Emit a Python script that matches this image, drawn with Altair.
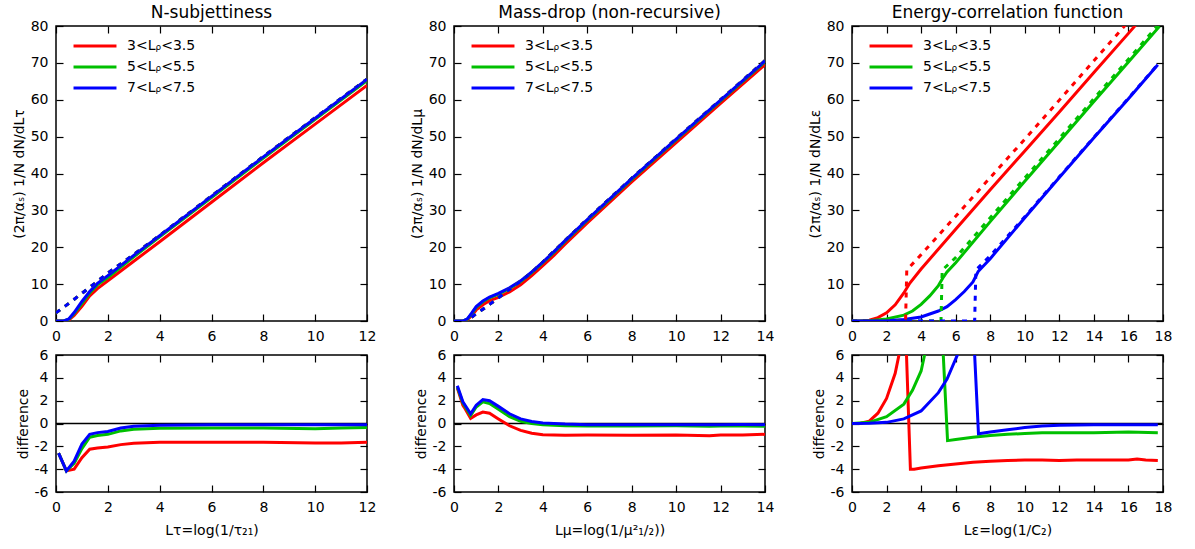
import altair as alt
import pandas as pd

FONT = "DejaVu Sans"
SERIES = ["3<Lᵨ<3.5", "5<Lᵨ<5.5", "7<Lᵨ<7.5"]
COLORS = ["#ff0000", "#00c000", "#0000ff"]
TITLES = ["N-subjettiness", "Mass-drop (non-recursive)", "Energy-correlation function"]
Y_TITLES = ["(2π/αₛ) 1/N dN/dLτ", "(2π/αₛ) 1/N dN/dLμ", "(2π/αₛ) 1/N dN/dLε"]
X_TITLES = ["Lτ=log(1/τ₂₁)", "Lμ=log(1/μ²₁/₂))", "Lε=log(1/C₂)"]
DIFF_TITLE = "difference"

X_TICKS_NS = [0, 2, 4, 6, 8, 10, 12]
X_TICKS_MD = [0, 2, 4, 6, 8, 10, 12, 14]
X_TICKS_EC = [0, 2, 4, 6, 8, 10, 12, 14, 16, 18]
Y_TICKS_TOP = [0, 10, 20, 30, 40, 50, 60, 70, 80]
Y_TICKS_DIFF = [-6, -4, -2, 0, 2, 4, 6]
ZERO_LEVEL = [0]

# ---------------- N-subjettiness ----------------
NS_X = [0, 0.3, 0.5, 0.7, 1.0, 1.3, 1.6, 2.0, 3, 4, 6, 8, 10, 12]
NS_RED = [0, 0, 0.3, 1.5, 4.0, 6.8, 8.8, 10.9, 16.2, 21.5, 32.2, 42.9, 53.4, 63.9]
NS_GRN = [0, 0, 0.5, 2.0, 4.8, 7.6, 9.8, 11.8, 17.4, 22.8, 33.5, 44.2, 54.7, 65.2]
NS_BLU = [0, 0, 0.6, 2.3, 5.3, 8.0, 10.2, 12.3, 17.8, 23.1, 33.8, 44.5, 55.0, 65.5]
NS_ANA_X = [0, 0.5, 1, 1.5, 2, 3, 4, 6, 8, 10, 12]
NS_ANA_Y = [2.2, 4.8, 7.5, 10.2, 13.0, 18.0, 23.2, 33.9, 44.6, 55.1, 65.6]

NSD_X = [0.1, 0.4, 0.7, 1.0, 1.3, 1.6, 2.0, 2.5, 3, 4, 6, 8, 10, 11, 12]
NSD_RED = [-2.6, -4.15, -4.0, -3.0, -2.25, -2.15, -2.05, -1.85, -1.72, -1.65, -1.65, -1.65, -1.7, -1.7, -1.65]
NSD_GRN = [-2.6, -4.15, -3.5, -2.2, -1.2, -1.05, -0.95, -0.65, -0.5, -0.42, -0.4, -0.4, -0.45, -0.4, -0.35]
NSD_BLU = [-2.6, -4.15, -3.3, -1.8, -0.95, -0.8, -0.7, -0.4, -0.25, -0.15, -0.12, -0.12, -0.12, -0.1, -0.1]

# ---------------- Mass-drop ----------------
MD_X = [0, 0.4, 0.6, 0.8, 1.0, 1.3, 1.6, 2.0, 2.5, 3, 3.5, 4, 4.5, 5, 6, 8, 10, 12, 14]
MD_RED = [0, 0, 0.3, 1.5, 3.0, 4.4, 5.5, 6.4, 7.9, 9.8, 12.3, 15.0, 17.8, 20.8, 26.6, 37.7, 48.4, 59.0, 69.5]
MD_GRN = [0, 0, 0.5, 2.0, 3.7, 5.2, 6.3, 7.3, 8.8, 10.7, 13.1, 15.8, 18.6, 21.6, 27.3, 38.4, 49.1, 59.7, 70.3]
MD_BLU = [0, 0, 0.6, 2.2, 3.9, 5.4, 6.5, 7.5, 9.0, 10.9, 13.3, 16.0, 18.8, 21.8, 27.5, 38.6, 49.3, 59.9, 70.5]
MD_ANA_X = [0.1, 0.4, 0.7, 1.0, 1.3, 1.6, 2.0, 2.5, 3, 3.5, 4, 6, 8, 10, 12, 14]
MD_ANA_Y = [-3.2, -1.6, 0.6, 2.0, 3.2, 4.5, 6.3, 8.6, 10.8, 13.2, 16.0, 27.6, 38.7, 49.4, 60.0, 70.6]

MDD_X = [0.15, 0.4, 0.5, 0.75, 1.0, 1.3, 1.6, 2.0, 2.5, 3, 3.5, 4, 5, 6, 8, 10, 11.5, 12, 13, 14]
MDD_RED = [3.1, 1.6, 1.3, 0.45, 0.75, 1.0, 0.9, 0.4, -0.2, -0.6, -0.85, -0.98, -1.02, -1.0, -1.02, -1.0, -1.08, -1.0, -1.0, -0.95]
MDD_GRN = [3.2, 1.8, 1.5, 0.7, 1.45, 1.9, 1.75, 1.25, 0.6, 0.2, 0.0, -0.12, -0.2, -0.22, -0.22, -0.2, -0.24, -0.22, -0.22, -0.25]
MDD_BLU = [3.3, 1.9, 1.6, 0.85, 1.6, 2.1, 2.0, 1.5, 0.85, 0.4, 0.18, 0.05, -0.05, -0.1, -0.1, -0.1, -0.1, -0.1, -0.08, -0.1]

# ---------------- Energy-correlation function ----------------
EC_RED_X = [0, 0.5, 1, 1.5, 2, 2.5, 3, 3.35, 4, 6, 8, 10, 12, 14, 16, 17.7]
EC_RED_Y = [0, 0.02, 0.2, 0.9, 2.2, 4.4, 7.6, 10.3, 14.1, 24.9, 35.6, 46.1, 56.7, 67.4, 78.0, 87.2]
EC_GRN_X = [0, 1, 2, 3, 3.5, 4, 4.5, 5, 5.25, 5.5, 6, 8, 10, 12, 14, 16, 17.8]
EC_GRN_Y = [0, 0.1, 0.55, 1.6, 2.7, 4.5, 6.8, 9.6, 11.6, 13.3, 15.8, 26.95, 37.9, 48.7, 59.5, 70.25, 79.9]
EC_BLU_X = [0, 1, 2, 3, 4, 5, 5.5, 6, 6.5, 7, 7.3, 8, 10, 12, 14, 16, 17.7]
EC_BLU_Y = [0, 0.02, 0.1, 0.4, 1.1, 2.7, 3.9, 5.8, 8.0, 10.6, 13.4, 16.9, 28.0, 38.9, 49.7, 60.3, 69.5]

EC_RED_ANA_X = [0, 3.1, 3.17, 4, 6, 8, 10, 12, 14, 16, 17.7]
EC_RED_ANA_Y = [0, 0, 13.8, 18.0, 28.4, 38.9, 49.3, 59.9, 70.6, 81.2, 90.2]
EC_GRN_ANA_X = [0, 5.15, 5.22, 6, 8, 10, 12, 14, 16, 17.8]
EC_GRN_ANA_Y = [0, 0, 13.8, 17.2, 28.0, 38.8, 49.5, 60.3, 71.0, 80.7]
EC_BLU_ANA_X = [0, 7.1, 7.17, 8, 10, 12, 14, 16, 17.7]
EC_BLU_ANA_Y = [0, 0, 13.8, 17.7, 28.3, 39.1, 49.8, 60.4, 69.6]

ECD_RED_X = [0, 0.5, 1, 1.5, 2, 2.5, 2.8, 3.05, 3.38, 3.6, 4, 5, 6, 7, 8, 9, 10, 11, 12, 13, 14, 15, 16, 16.5, 17, 17.7]
ECD_RED_Y = [0, 0.02, 0.2, 0.9, 2.2, 4.4, 6.6, 10.6, -4.0, -4.0, -3.9, -3.7, -3.55, -3.4, -3.3, -3.25, -3.2, -3.2, -3.25, -3.2, -3.2, -3.2, -3.2, -3.1, -3.2, -3.25]
ECD_GRN_X = [0, 1, 2, 3, 3.5, 4, 4.2, 4.5, 5.0, 5.2, 5.53, 6, 7, 8, 9, 10, 11, 12, 14, 16, 17.7]
ECD_GRN_Y = [0, 0.1, 0.6, 1.7, 2.9, 4.6, 6.0, 7.5, 8.2, 8.5, -1.5, -1.4, -1.2, -1.05, -0.95, -0.88, -0.82, -0.8, -0.8, -0.75, -0.8]
ECD_BLU_X = [0, 1, 2, 3, 4, 5, 5.5, 6.1, 6.5, 7.0, 7.32, 8, 9, 10, 11, 12, 14, 16, 17.7]
ECD_BLU_Y = [0, 0.02, 0.1, 0.4, 1.1, 2.7, 3.9, 6.0, 8.0, 9.1, -0.9, -0.75, -0.55, -0.35, -0.22, -0.15, -0.12, -0.1, -0.1]

W = 311
H_TOP = 295
H_BOT = 137


def series_df(xs_list, ys_list):
    rows = []
    for name, xs, ys in zip(SERIES, xs_list, ys_list):
        for x, y in zip(xs, ys):
            rows.append({"series": name, "x": x, "y": y})
    return pd.DataFrame(rows)


def label_axis(orient, values, title, title_padding):
    return alt.Axis(orient=orient, values=values, tickSize=0, domain=False,
                    labelPadding=8, title=title, titlePadding=title_padding,
                    grid=False, labelFlush=False, labelOverlap=False,
                    labelExpr="'' + datum.value")


def tick_axis(orient, values, offset):
    return alt.Axis(orient=orient, values=values, offset=offset, tickSize=7,
                    labels=False, domain=False, title=None, grid=False)


def panel(df_solid, df_dash, xdom, xt, ydom, yt, h, ytitle, xtitle, legend, zero):
    xs = alt.Scale(domain=xdom, nice=False, zero=False)
    ys = alt.Scale(domain=ydom, nice=False, zero=False)
    cs = alt.Scale(domain=SERIES, range=COLORS)
    layers = []
    if zero:
        layers.append(
            alt.Chart(pd.DataFrame({"y": ZERO_LEVEL})).mark_rule(color="black", strokeWidth=1.5)
            .encode(y=alt.Y("y:Q", scale=ys, axis=None))
        )
    layers.append(
        alt.Chart(df_solid).mark_line(strokeWidth=3, clip=True).encode(
            x=alt.X("x:Q", scale=xs, axis=label_axis("bottom", xt, xtitle, 9)),
            y=alt.Y("y:Q", scale=ys, axis=label_axis("left", yt, ytitle, 4)),
            color=alt.Color("series:N", scale=cs, legend=legend),
        )
    )
    if df_dash is not None:
        second = alt.Chart(df_dash).mark_line(strokeWidth=3, strokeDash=[5, 6], clip=True)
    else:
        second = alt.Chart(df_solid).mark_line(strokeWidth=3, strokeOpacity=0, clip=True)
    layers.append(
        second.encode(
            x=alt.X("x:Q", scale=xs, axis=tick_axis("top", xt, -h)),
            y=alt.Y("y:Q", scale=ys, axis=tick_axis("right", yt, -W)),
            color=alt.Color("series:N", scale=cs, legend=None),
        )
    )
    layers.append(
        alt.Chart(df_solid).mark_line(strokeWidth=3, strokeOpacity=0, clip=True).encode(
            x=alt.X("x:Q", scale=xs, axis=tick_axis("bottom", xt, -h)),
            y=alt.Y("y:Q", scale=ys, axis=tick_axis("left", yt, -W)),
            color=alt.Color("series:N", scale=cs, legend=None),
        )
    )
    return alt.layer(*layers).resolve_axis(x="independent", y="independent").properties(width=W, height=h)


def make_legend():
    return alt.Legend(orient="none", legendX=30, legendY=11, title=None,
                      symbolType="M-3,0H3", symbolSize=205, symbolStrokeWidth=3,
                      labelFont=FONT, labelFontSize=14, labelOffset=23,
                      rowPadding=5, padding=0, labelColor="black")


tops = [
    (series_df([NS_X, NS_X, NS_X], [NS_RED, NS_GRN, NS_BLU]),
     series_df([NS_ANA_X] * 3, [NS_ANA_Y] * 3), [0, 12], X_TICKS_NS),
    (series_df([MD_X, MD_X, MD_X], [MD_RED, MD_GRN, MD_BLU]),
     series_df([MD_ANA_X] * 3, [MD_ANA_Y] * 3), [0, 14], X_TICKS_MD),
    (series_df([EC_RED_X, EC_GRN_X, EC_BLU_X], [EC_RED_Y, EC_GRN_Y, EC_BLU_Y]),
     series_df([EC_RED_ANA_X, EC_GRN_ANA_X, EC_BLU_ANA_X], [EC_RED_ANA_Y, EC_GRN_ANA_Y, EC_BLU_ANA_Y]),
     [0, 18], X_TICKS_EC),
]
bottoms = [
    series_df([NSD_X] * 3, [NSD_RED, NSD_GRN, NSD_BLU]),
    series_df([MDD_X] * 3, [MDD_RED, MDD_GRN, MDD_BLU]),
    series_df([ECD_RED_X, ECD_GRN_X, ECD_BLU_X], [ECD_RED_Y, ECD_GRN_Y, ECD_BLU_Y]),
]

top_charts = []
bot_charts = []
for i in range(3):
    df_s, df_d, xdom, xt = tops[i]
    top = panel(df_s, df_d, xdom, xt, [0, 80], Y_TICKS_TOP, H_TOP, Y_TITLES[i], None,
                make_legend(), False).properties(
        title=alt.TitleParams(TITLES[i], frame="group", offset=-3, fontSize=17,
                              font=FONT, fontWeight="normal", color="black"))
    bot = panel(bottoms[i], None, xdom, xt, [-6, 6], Y_TICKS_DIFF, H_BOT, DIFF_TITLE,
                X_TITLES[i], None, True)
    top_charts.append(top)
    bot_charts.append(bot)

chart = (
    alt.concat(*(top_charts + bot_charts), columns=3, bounds="flush",
               spacing={"row": 34, "column": 87})
    .resolve_scale(color="independent")
    .properties(padding={"left": 11, "top": 3, "right": 5, "bottom": 5})
    .configure_view(stroke="black", strokeWidth=1.5)
    .configure_axis(labelFont=FONT, labelFontSize=14, titleFont=FONT, titleFontSize=14,
                    titleFontWeight="normal", labelColor="black", titleColor="black",
                    tickColor="black", tickWidth=1.2, grid=False)
    .configure_legend(labelLimit=300)
)

chart.save("out.html", embed_options={"renderer": "svg", "actions": False})
